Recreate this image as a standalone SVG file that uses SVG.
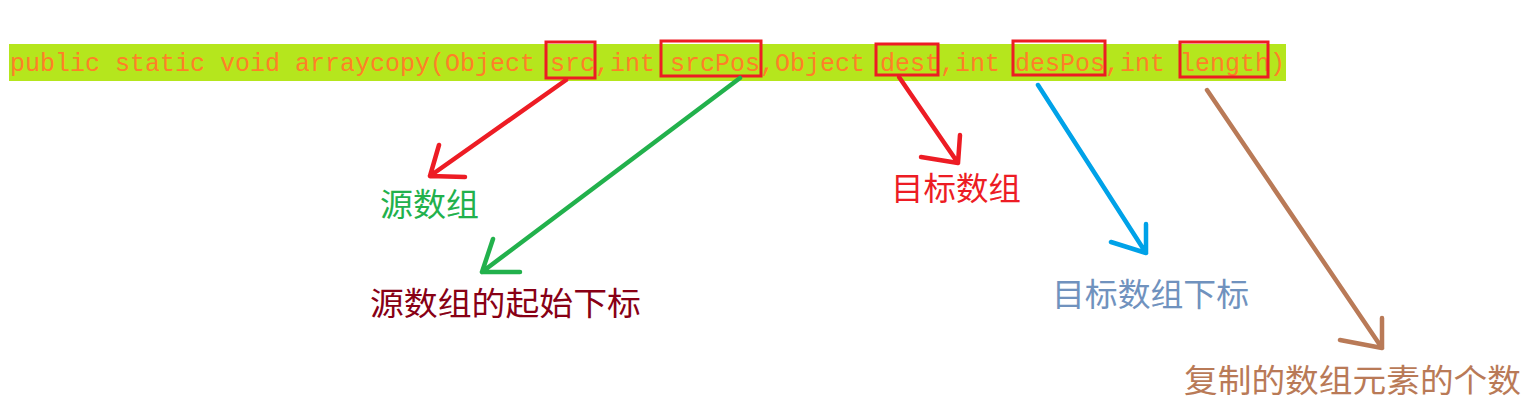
<svg xmlns="http://www.w3.org/2000/svg" width="1530" height="406" viewBox="0 0 1530 406">
<style>
.code{font-family:"Liberation Mono","DejaVu Sans Mono",monospace;font-size:25px;fill:#ff7f27}
.box{fill:none;stroke:#ed1c24;stroke-width:3}
.lbl{font-family:"Noto Sans CJK SC","Noto Sans",sans-serif;font-size:32px}
.arr{fill:none;stroke-width:4.5;stroke-linecap:round;stroke-linejoin:round}
</style>
<rect width="1530" height="406" fill="#ffffff"/>
<g id="signature">
<rect x="9" y="44" width="1277" height="37" fill="#b5e61d"/>
<text class="code" x="10" y="71" textLength="1275" lengthAdjust="spacing">public static void arraycopy(Object src,int srcPos,Object dest,int desPos,int length)</text>
<rect class="box" x="546" y="42" width="49" height="36"/>
<rect class="box" x="661" y="41" width="100" height="35"/>
<rect class="box" x="876" y="44" width="62" height="31"/>
<rect class="box" x="1013" y="41" width="92" height="34"/>
<rect class="box" x="1180" y="42" width="88" height="35"/>
</g>
<g id="connectors">
<path class="arr" stroke="#ed1c24" d="M566,80 L430,176 M439,145 L430,176 L465,177"/>
<path class="arr" stroke="#22b14c" d="M740,78 L482,272 M493,239 L482,272 L520,272"/>
<path class="arr" stroke="#ed1c24" d="M899,77 L958,163 M960,135 L958,163 L921,157"/>
<path class="arr" stroke="#00a2e8" d="M1038,85 L1146,253 M1146,224 L1146,253 L1111,242"/>
<path class="arr" stroke="#b97a57" d="M1207,90 L1382,348 M1382,318 L1382,348 L1340,340"/>
</g>
<g id="n-src"><text class="lbl" x="380" y="216" fill="#22b14c" textLength="99" lengthAdjust="spacingAndGlyphs">源数组</text></g>
<g id="n-srcPos"><text class="lbl" x="370" y="315" fill="#880015" textLength="271" lengthAdjust="spacingAndGlyphs">源数组的起始下标</text></g>
<g id="n-dest"><text class="lbl" x="891" y="200" fill="#ed1c24" textLength="130" lengthAdjust="spacingAndGlyphs">目标数组</text></g>
<g id="n-desPos"><text class="lbl" x="1052" y="306" fill="#7092be" textLength="197" lengthAdjust="spacingAndGlyphs">目标数组下标</text></g>
<g id="n-length"><text class="lbl" x="1184" y="392" fill="#b97a57" textLength="337" lengthAdjust="spacingAndGlyphs">复制的数组元素的个数</text></g>
</svg>
